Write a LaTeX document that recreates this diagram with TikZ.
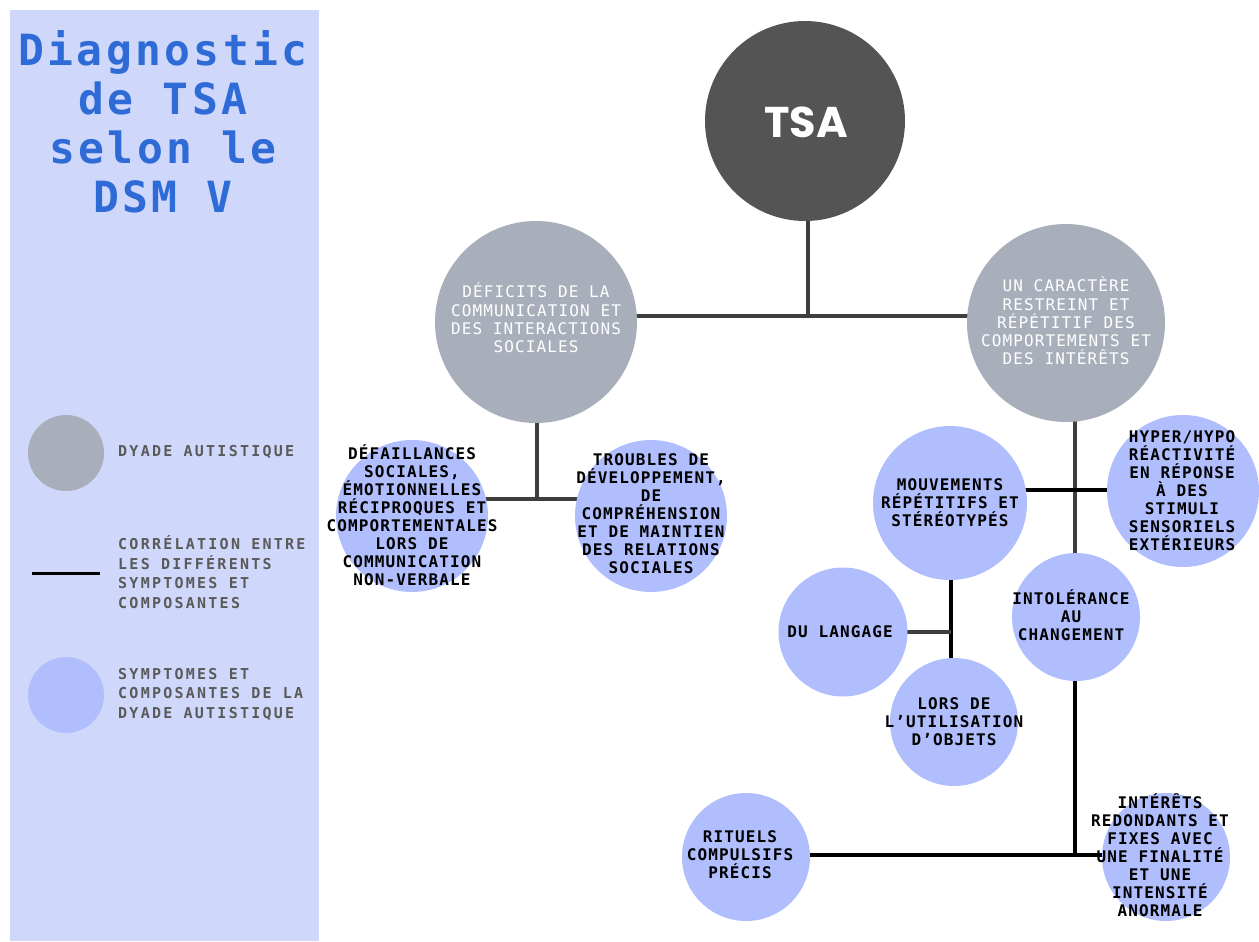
\documentclass[tikz,border=0pt]{standalone}
\usepackage{fontspec}
\usetikzlibrary{backgrounds}
\newfontfamily\titlefont[LetterSpace=8]{DejaVu Sans Mono}
\newfontfamily\lblfont[LetterSpace=15]{DejaVu Sans Mono}
\newfontfamily\circfont[LetterSpace=7]{DejaVu Sans Mono}
\newfontfamily\grayfont[LetterSpace=7]{DejaVu Sans Mono}
\newfontfamily\tsafont{Poppins}
\definecolor{panel}{HTML}{CFD7FB}
\definecolor{bluec}{HTML}{B0BEFD}
\definecolor{grayc}{HTML}{A9AFBA}
\definecolor{tsac}{HTML}{545454}
\definecolor{titleblue}{HTML}{2F6BD6}
\definecolor{legtext}{HTML}{5A5A5A}
\definecolor{lineg}{HTML}{3E3E3E}
\begin{document}
\begin{tikzpicture}[x=1pt,y=-1pt,
  graycirc/.style={circle,fill=grayc,inner sep=0pt,minimum size=#1},
  bluecirc/.style={circle,fill=bluec,inner sep=0pt,minimum size=#1},
  btxt/.style={font=\circfont\bfseries\fontsize{16}{18}\selectfont,align=center,text=black,inner sep=0pt},
  gtxt/.style={font=\grayfont\fontsize{16}{18.3}\selectfont,align=center,text=white,inner sep=0pt},
  ltxt/.style={font=\lblfont\bfseries\fontsize{15}{19.5}\selectfont,align=left,text=legtext,anchor=west,inner sep=0pt},
  conng/.style={draw=lineg,line width=3.5pt},
  connk/.style={draw=black,line width=4pt}]
\useasboundingbox (0,0) rectangle (1259,942);
\fill[panel] (10,10) rectangle (319,941);
\node[font=\titlefont\bfseries\fontsize{43}{49}\selectfont,text=titleblue,align=center,inner sep=0pt] (title) at (163,122) {Diagnostic\\de TSA\\selon le\\DSM V};
% legend
\node[graycirc=76pt] (lg1) at (66,453) {};
\node[ltxt] (lt1) at (118,452) {DYADE AUTISTIQUE};
\coordinate (la) at (32,573);
\coordinate (lb) at (100,573);
\draw[draw=black,line width=3pt] (la) -- (lb);
\node[ltxt] (lt2) at (118,572) {CORRÉLATION ENTRE\\LES DIFFÉRENTS\\SYMPTOMES ET\\COMPOSANTES};
\node[bluecirc=76pt] (lg2) at (66,695) {};
\node[ltxt] (lt3) at (118,694) {SYMPTOMES ET\\COMPOSANTES DE LA\\DYADE AUTISTIQUE};
% main circles
\node[circle,fill=tsac,inner sep=0pt,minimum size=200pt] (tsa) at (805,121) {};
\node[font=\tsafont\bfseries\fontsize{43}{48}\selectfont,text=white,inner sep=0pt] (tsat) at (806,122) {TSA};
\node[graycirc=202pt] (dyL) at (536,322) {};
\node[gtxt] (dyLt) at (536,318) {DÉFICITS DE LA\\COMMUNICATION ET\\DES INTERACTIONS\\SOCIALES};
\node[graycirc=198pt] (dyR) at (1066,323) {};
\node[gtxt] (dyRt) at (1066,321) {UN CARACTÈRE\\RESTREINT ET\\RÉPÉTITIF DES\\COMPORTEMENTS ET\\DES INTÉRÊTS};
% left children
\node[bluecirc=152pt] (dfl) at (412,516) {};
\node[btxt] (dflt) at (412,515) {DÉFAILLANCES\\SOCIALES,\\ÉMOTIONNELLES\\RÉCIPROQUES ET\\COMPORTEMENTALES\\LORS DE\\COMMUNICATION\\NON-VERBALE};
\node[bluecirc=152pt] (tro) at (651,516) {};
\node[btxt] (trot) at (651,514) {TROUBLES DE\\DÉVELOPPEMENT,\\DE\\COMPRÉHENSION\\ET DE MAINTIEN\\DES RELATIONS\\SOCIALES};
% right children
\node[bluecirc=154pt] (mvt) at (950,503) {};
\node[btxt] (mvtt) at (950,503) {MOUVEMENTS\\RÉPÉTITIFS ET\\STÉRÉOTYPÉS};
\node[bluecirc=152pt] (hyp) at (1183,491) {};
\node[btxt] (hypt) at (1182,491) {HYPER/HYPO\\RÉACTIVITÉ\\EN RÉPONSE\\À DES\\STIMULI\\SENSORIELS\\EXTÉRIEURS};
\node[bluecirc=128pt] (itl) at (1076,617) {};
\node[btxt] (itlt) at (1071,615) {INTOLÉRANCE\\AU\\CHANGEMENT};
\node[bluecirc=129pt] (lng) at (843,632) {};
\node[btxt] (lngt) at (840,632) {DU LANGAGE};
\node[bluecirc=128pt] (obj) at (954,722) {};
\node[btxt] (objt) at (954,722) {LORS DE\\L’UTILISATION\\D’OBJETS};
\node[bluecirc=128pt] (rit) at (746,857) {};
\node[btxt] (ritt) at (740,855) {RITUELS\\COMPULSIFS\\PRÉCIS};
\node[bluecirc=128pt] (irt) at (1166,857) {};
\node[btxt] (irtt) at (1160,855) {INTÉRÊTS\\REDONDANTS ET\\FIXES AVEC\\UNE FINALITÉ\\ET UNE\\INTENSITÉ\\ANORMALE};
% connectors
\coordinate (j0) at (808,316);
\coordinate (j1) at (537,499);
\coordinate (j2) at (1075,490);
\coordinate (j3) at (1075,855);
\coordinate (j4) at (951,632);
\begin{scope}[on background layer]
\draw[conng] (j0 |- tsa.center) -- (j0);
\draw[conng] (j0) -- (j0 -| dyL.center);
\draw[conng] (j0) -- (j0 -| dyR.center);
\draw[conng] (j1 |- dyL.center) -- (j1);
\draw[conng] (j1 -| dfl.center) -- (j1 -| tro.center);
\draw[conng] (j2 |- dyR.center) -- (j2 |- itl.center);
\draw[connk] (j2 -| mvt.center) -- (j2 -| hyp.center);
\draw[connk] (j3 |- itl.center) -- (j3);
\draw[connk] (j3 -| rit.center) -- (j3 -| irt.center);
\draw[connk] (j4 |- mvt.center) -- (j4 |- obj.center);
\draw[conng] (j4 -| lng.center) -- (j4);
\end{scope}
\end{tikzpicture}
\end{document}
